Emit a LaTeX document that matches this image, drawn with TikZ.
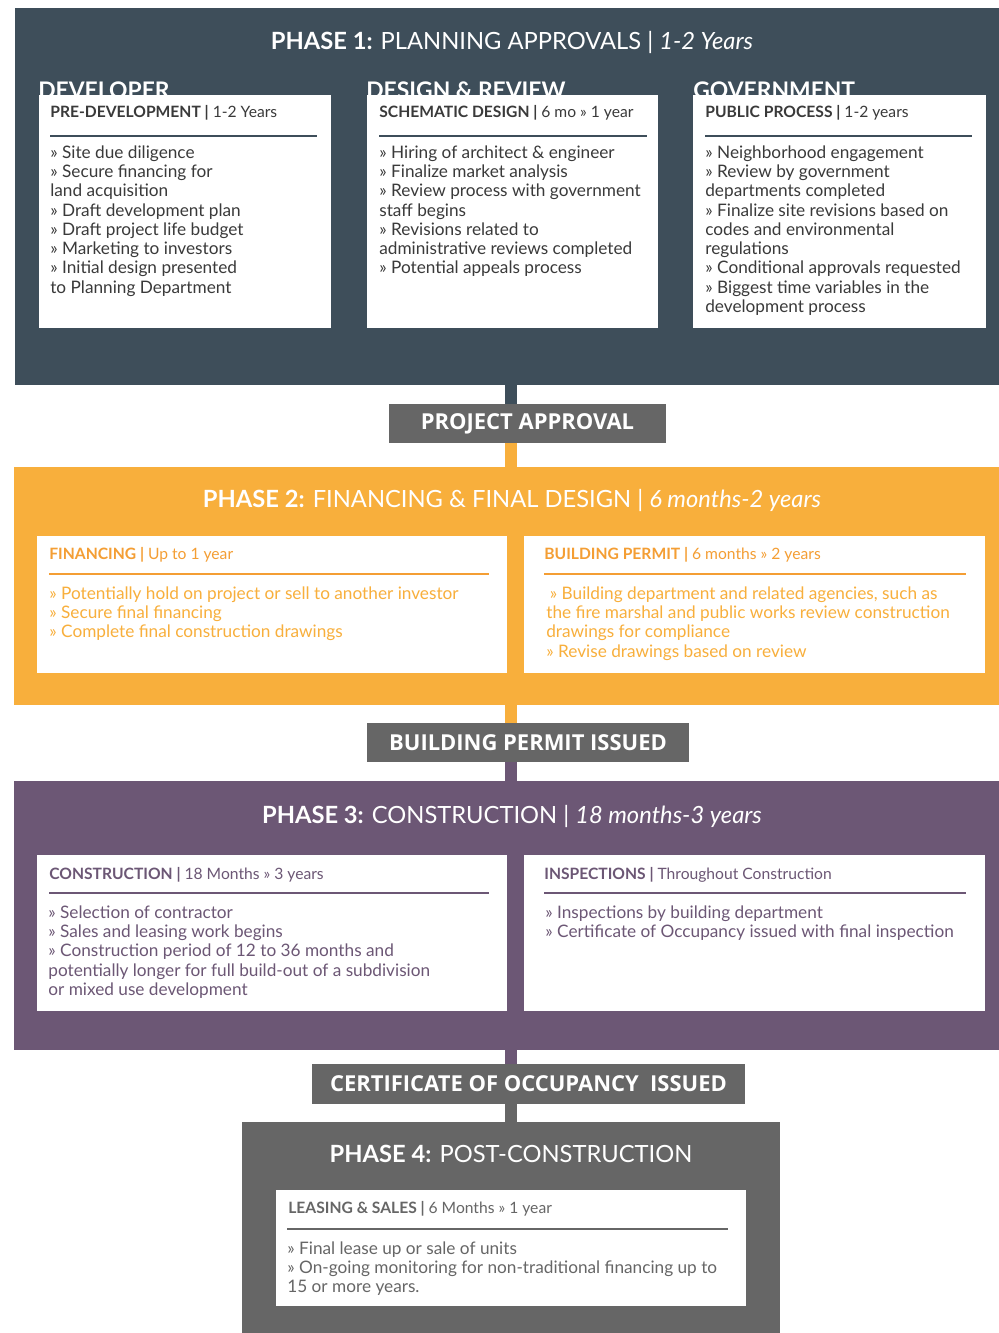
\documentclass[tikz,border=0pt]{standalone}
\usepackage{fontspec}
\setmainfont{Lato}
\newfontfamily\bannerfont{Open Sans}
\usetikzlibrary{fit,positioning}

\definecolor{slate}{RGB}{62,78,90}
\definecolor{amber}{RGB}{248,175,60}
\definecolor{amberdk}{RGB}{244,158,52}
\definecolor{plum}{RGB}{108,87,117}
\definecolor{ash}{RGB}{102,102,102}
\definecolor{ink}{RGB}{58,58,58}

\begin{document}
\begin{tikzpicture}[x=0.02cm, y=-0.02cm,
    panel/.style={inner sep=0pt, outer sep=0pt},
    card/.style={fill=white, inner sep=0pt, outer sep=0pt},
    title/.style={text=white, inner sep=0pt, font=\fontsize{13.5}{16}\selectfont},
    column/.style={text=white, inner sep=0pt, anchor=base west, font=\bfseries\fontsize{13}{16}\selectfont},
    head/.style={inner sep=0pt, anchor=west, font=\fontsize{8.9}{10}\selectfont},
    items/.style={inner sep=0pt, anchor=north west, align=left, font=\fontsize{9.8}{11}\selectfont},
    rule/.style={line width=1pt},
    milestone/.style={fill=ash, text=white, inner sep=0pt, font=\bannerfont\bfseries\fontsize{12.5}{15}\selectfont},
    link/.style={white, line width=0.8pt, double=#1, double distance=6.8pt}]

  \useasboundingbox (0,0) rectangle (999,1333);
  \coordinate (spine) at (511,0);

  % phase 1
  \node[panel, fill=slate, fit={(15,8) (999,385)}] (ph1) {};
  \node[title] (t1) at (512,42) {\textbf{PHASE 1:} PLANNING APPROVALS | \textit{1-2 Years}};
  \node[column] (c1) at (38,98) {DEVELOPER};
  \node[column] (c2) at (366,98) {DESIGN \& REVIEW};
  \node[column] (c3) at (693,98) {GOVERNMENT};
  \node[card, fit={(39,95) (331,328)}] (b11) {};
  \node[card, fit={(367,95) (658,328)}] (b12) {};
  \node[card, fit={(693,95) (986,328)}] (b13) {};
  \node[head, text=ink] (h11) at (50,113) {\textbf{PRE-DEVELOPMENT |} 1-2 Years};
  \node[head, text=ink] (h12) at (379,113) {\textbf{SCHEMATIC DESIGN |} 6 mo » 1 year};
  \node[head, text=ink] (h13) at (705,113) {\textbf{PUBLIC PROCESS |} 1-2 years};
  \draw[rule, slate] (50,136) -- (317,136);
  \draw[rule, slate] (379,136) -- (647,136);
  \draw[rule, slate] (705,136) -- (972,136);
  \node[items, text=ink] (l11) at (50,145) {» Site due diligence\\» Secure financing for\\land acquisition\\
    » Draft development plan\\» Draft project life budget\\» Marketing to investors\\
    » Initial design presented\\to Planning Department};
  \node[items, text=ink] (l12) at (379,145) {» Hiring of architect \& engineer\\» Finalize market analysis\\
    » Review process with government\\staff begins\\» Revisions related to\\
    administrative reviews completed\\» Potential appeals process};
  \node[items, text=ink] (l13) at (705,145) {» Neighborhood engagement\\» Review by government\\
    departments completed\\» Finalize site revisions based on\\codes and environmental\\
    regulations\\» Conditional approvals requested\\» Biggest time variables in the\\
    development process};

  % milestone 1
  \node[milestone, fit={(389,404) (666,443)}] (m1) {};
  \node[milestone, fill=none] at (m1.center) {PROJECT APPROVAL};

  % phase 2
  \node[panel, fill=amber, fit={(14,467) (999,705)}] (ph2) {};
  \node[title] (t2) at (512,500) {\textbf{PHASE 2:} FINANCING \& FINAL DESIGN | \textit{6 months-2 years}};
  \node[card, fit={(37,536) (507,673)}] (b21) {};
  \node[card, fit={(524,536) (985,673)}] (b22) {};
  \node[head, text=amberdk] (h21) at (49,555) {\textbf{FINANCING |} Up to 1 year};
  \node[head, text=amberdk] (h22) at (544,555) {\textbf{BUILDING PERMIT |} 6 months » 2 years};
  \draw[rule, amberdk] (49,574) -- (489,574);
  \draw[rule, amberdk] (544,574) -- (966,574);
  \node[items, text=amber] (l21) at (49,586) {» Potentially hold on project or sell to another investor\\
    » Secure final financing\\» Complete final construction drawings};
  \node[items, text=amber] (l22) at (546,586) {\hspace{2pt}» Building department and related agencies, such as\\
    the fire marshal and public works review construction\\drawings for compliance\\
    » Revise drawings based on review};

  % milestone 2
  \node[milestone, fit={(367,723) (689,762)}] (m2) {};
  \node[milestone, fill=none] at (m2.center) {BUILDING PERMIT ISSUED};

  % phase 3
  \node[panel, fill=plum, fit={(14,781) (999,1050)}] (ph3) {};
  \node[title] (t3) at (512,816) {\textbf{PHASE 3:} CONSTRUCTION | \textit{18 months-3 years}};
  \node[card, fit={(37,855) (507,1011)}] (b31) {};
  \node[card, fit={(524,855) (985,1011)}] (b32) {};
  \node[head, text=plum] (h31) at (49,875) {\textbf{CONSTRUCTION |} 18 Months » 3 years};
  \node[head, text=plum] (h32) at (544,875) {\textbf{INSPECTIONS |} Throughout Construction};
  \draw[rule, plum] (49,893) -- (489,893);
  \draw[rule, plum] (544,893) -- (966,893);
  \node[items, text=plum] (l31) at (48,905) {» Selection of contractor\\» Sales and leasing work begins\\
    » Construction period of 12 to 36 months and\\potentially longer for full build-out of a subdivision\\
    or mixed use development};
  \node[items, text=plum] (l32) at (545,905) {» Inspections by building department\\
    » Certificate of Occupancy issued with final inspection};

  % milestone 3
  \node[milestone, fit={(312,1064) (745,1104)}] (m3) {};
  \node[milestone, fill=none] at (m3.center) {CERTIFICATE OF OCCUPANCY~ ISSUED};

  % phase 4
  \node[panel, fill=ash, fit={(242,1122) (780,1340)}] (ph4) {};
  \node[title] (t4) at (511,1154) {\textbf{PHASE 4:} POST-CONSTRUCTION};
  \node[card, fit={(276,1190) (746,1306)}] (b41) {};
  \node[head, text=ash] (h41) at (288,1209) {\textbf{LEASING \& SALES |} 6 Months » 1 year};
  \draw[rule, ash] (287,1229) -- (728,1229);
  \node[items, text=ash] (l41) at (287,1241) {» Final lease up or sale of units\\
    » On-going monitoring for non-traditional financing up to\\15 or more years.};

  % spine between phases and milestones
  \draw[link=slate] (ph1.south -| spine) -- (m1.north -| spine);
  \draw[link=amber] (m1.south -| spine) -- (ph2.north -| spine);
  \draw[link=amber] (ph2.south -| spine) -- (m2.north -| spine);
  \draw[link=plum] (m2.south -| spine) -- (ph3.north -| spine);
  \draw[link=plum] (ph3.south -| spine) -- (m3.north -| spine);
  \draw[link=ash] (m3.south -| spine) -- (ph4.north -| spine);
\end{tikzpicture}
\end{document}
